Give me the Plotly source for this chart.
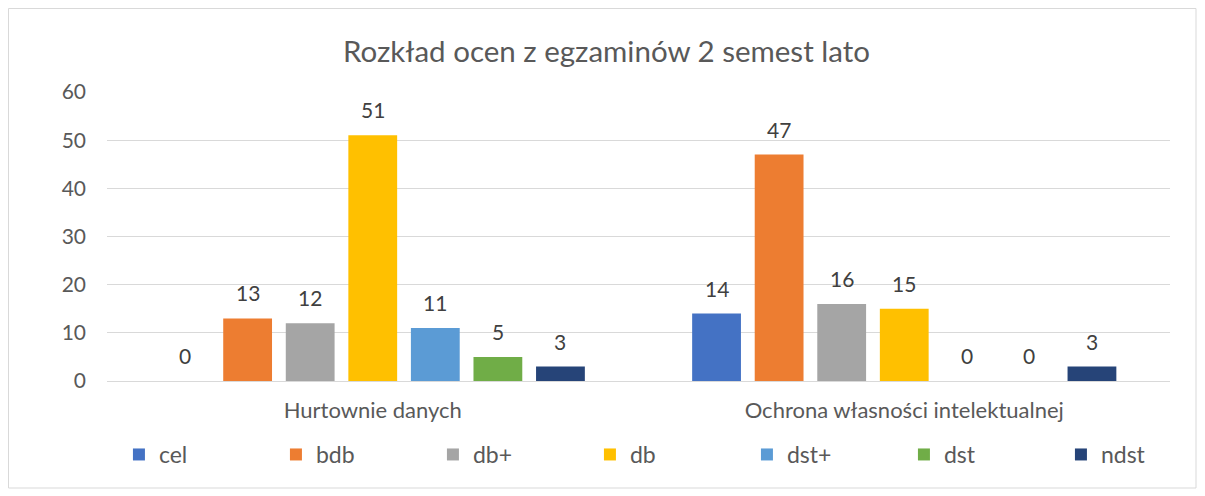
import plotly.graph_objects as go

categories = ["Hurtownie danych", "Ochrona własności intelektualnej"]
series_names = ["cel", "bdb", "db+", "db", "dst+", "dst", "ndst"]
cel = [0, 14]
bdb = [13, 47]
db_plus = [12, 16]
db = [51, 15]
dst_plus = [11, 0]
dst = [5, 0]
ndst = [3, 3]
series_values = [cel, bdb, db_plus, db, dst_plus, dst, ndst]
colors = ["#4472C4", "#ED7D31", "#A5A5A5", "#FFC000", "#5B9BD5", "#70AD47", "#264478"]
y_ticks = [0, 10, 20, 30, 40, 50, 60]

FONT = "Lato, 'Open Sans', sans-serif"
BARGAP = 0.176
N = len(series_names)

# page has an 8px body margin: figure drawn at (8, 8)
W, H = 1197, 488
L, R, T, B = 99, 35, 84, 115
PW, PH = W - L - R, H - T - B

fig = go.Figure()
annotations = []
for j, (name, vals, col) in enumerate(zip(series_names, series_values, colors)):
    fig.add_trace(go.Bar(
        name=name, x=categories, y=vals, marker=dict(color=col, line=dict(width=0)),
        hoverinfo="skip",
    ))
    slot = (1 - BARGAP) / N
    for i, v in enumerate(vals):
        annotations.append(dict(
            x=i + (j - (N - 1) / 2) * slot, y=v, xref="x", yref="y",
            text=str(v), showarrow=False, xanchor="center", yanchor="bottom",
            yshift=11, font=dict(size=21, color="#404040", family=FONT),
        ))

fig.update_layout(
    width=W, height=H,
    margin=dict(l=L, r=R, t=T, b=B, autoexpand=False),
    paper_bgcolor="white", plot_bgcolor="white",
    barmode="group", bargap=BARGAP, bargroupgap=0.22,
    title=dict(text="Rozkład ocen z egzaminów 2 semest lato", x=0.5, xanchor="center",
               y=1 - 44 / H, yanchor="middle",
               font=dict(size=29.5, color="#595959", family=FONT)),
    font=dict(family=FONT, color="#595959", size=20),
    showlegend=True,
    legend=dict(orientation="h", x=-0.001, xanchor="left", y=-0.135, yanchor="top",
                entrywidth=112, entrywidthmode="pixels",
                borderwidth=13, bordercolor="rgba(0,0,0,0)", bgcolor="rgba(0,0,0,0)",
                font=dict(size=23, color="#595959", family=FONT), itemclick=False),
    xaxis=dict(showline=False, ticks="", ticklabelstandoff=14,
               tickfont=dict(size=22, color="#595959")),
    yaxis=dict(range=[0, 60], tickvals=y_ticks, showgrid=True, gridcolor="#D9D9D9",
               gridwidth=1, zeroline=True, zerolinecolor="#D9D9D9", zerolinewidth=1,
               showline=False, ticks="", ticklabelstandoff=20,
               tickfont=dict(size=21, color="#595959")),
    annotations=annotations,
    shapes=[dict(type="rect", xref="paper", yref="paper",
                 x0=(0.5 - L) / PW, x1=(1188 - L) / PW,
                 y0=(PH + T - 480) / PH, y1=(PH + T - 0.5) / PH,
                 line=dict(color="#D9D9D9", width=1), fillcolor="rgba(0,0,0,0)", layer="below")],
)

fig.write_html("out.html")
